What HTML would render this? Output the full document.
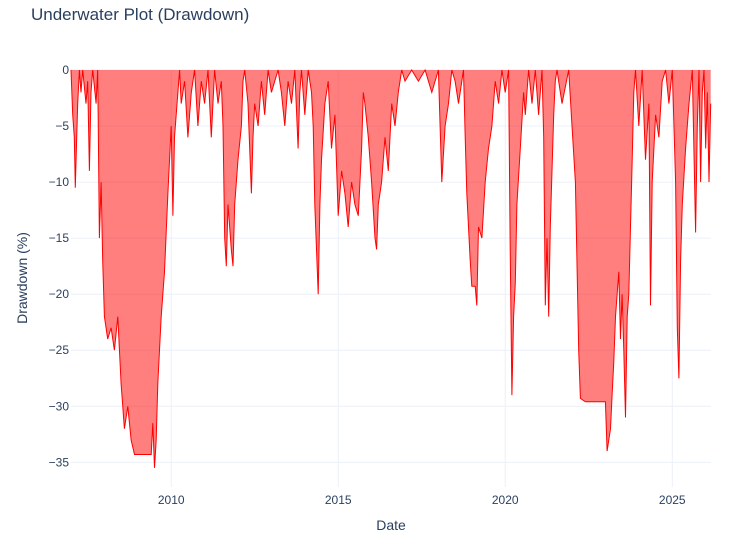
<!DOCTYPE html>
<html><head><meta charset="utf-8"><style>
body{margin:0;background:#fff;font-family:"Liberation Sans",sans-serif;}
svg text{font-family:"Liberation Sans",sans-serif;fill:#2a3f5f;}
</style></head><body>
<svg id="chart" width="740" height="545">
<text x="31" y="20" font-size="17">Underwater Plot (Drawdown)</text>
<g id="grid"></g><g id="series"></g><g id="axes"></g>
<text x="391" y="530" font-size="14" text-anchor="middle">Date</text>
<text transform="translate(27,278) rotate(-90)" font-size="14" text-anchor="middle">Drawdown (%)</text>
</svg>
<script>
const dates=[2007.0,2007.05,2007.1,2007.13,2007.17,2007.2,2007.25,2007.3,2007.35,2007.45,2007.5,2007.55,2007.6,2007.65,2007.75,2007.8,2007.85,2007.9,2007.95,2008.0,2008.1,2008.2,2008.3,2008.4,2008.5,2008.6,2008.7,2008.8,2008.9,2009.0,2009.2,2009.4,2009.45,2009.5,2009.55,2009.6,2009.65,2009.7,2009.8,2009.9,2010.0,2010.05,2010.1,2010.2,2010.25,2010.3,2010.4,2010.5,2010.6,2010.7,2010.8,2010.9,2011.0,2011.1,2011.2,2011.3,2011.4,2011.5,2011.55,2011.6,2011.65,2011.7,2011.8,2011.85,2011.9,2012.0,2012.1,2012.15,2012.2,2012.3,2012.4,2012.45,2012.5,2012.6,2012.7,2012.8,2012.9,2013.0,2013.2,2013.3,2013.4,2013.5,2013.6,2013.7,2013.8,2013.85,2013.9,2014.0,2014.1,2014.2,2014.25,2014.3,2014.35,2014.4,2014.45,2014.5,2014.6,2014.7,2014.8,2014.9,2015.0,2015.1,2015.2,2015.3,2015.4,2015.5,2015.6,2015.7,2015.75,2015.8,2015.9,2016.0,2016.1,2016.15,2016.2,2016.3,2016.4,2016.5,2016.6,2016.7,2016.8,2016.9,2017.0,2017.2,2017.4,2017.6,2017.8,2018.0,2018.1,2018.2,2018.3,2018.4,2018.5,2018.6,2018.75,2018.8,2018.85,2018.9,2018.95,2019.0,2019.1,2019.15,2019.2,2019.3,2019.4,2019.5,2019.6,2019.7,2019.8,2019.9,2020.0,2020.1,2020.15,2020.2,2020.25,2020.3,2020.35,2020.45,2020.55,2020.6,2020.7,2020.8,2020.9,2021.0,2021.1,2021.15,2021.2,2021.25,2021.3,2021.35,2021.45,2021.5,2021.55,2021.7,2021.9,2022.0,2022.1,2022.2,2022.25,2022.4,2022.6,2022.8,2023.0,2023.05,2023.1,2023.15,2023.2,2023.25,2023.3,2023.4,2023.45,2023.5,2023.55,2023.6,2023.65,2023.7,2023.8,2023.85,2023.9,2024.0,2024.1,2024.2,2024.3,2024.35,2024.4,2024.5,2024.6,2024.7,2024.8,2024.9,2025.0,2025.1,2025.15,2025.2,2025.25,2025.3,2025.4,2025.5,2025.6,2025.7,2025.75,2025.8,2025.85,2025.9,2025.95,2026.0,2026.05,2026.1,2026.15];
const drawdowns=[0,-4,-6,-10.5,-6,-3,0,-2,0,-3,-1,-9,-2,0,-3,0,-15,-10,-17,-22,-24,-23,-25,-22,-28,-32,-30,-33,-34.3,-34.3,-34.3,-34.3,-31.5,-35.5,-33,-28,-25,-22,-18,-11,-5,-13,-6,-2,0,-3,-1,-6,-2,0,-5,-1,-3,0,-6,0,-3,-1,-5,-15,-17.5,-12,-16,-17.5,-12,-8,-5,-1,0,-3,-11,-6,-3,-5,-1,-4,0,-2,0,-2,-5,-1,-3,0,-7,-2,0,-4,0,-2,-5,-12,-16,-20,-12,-8,-3,-1,-7,-4,-13,-9,-11,-14,-10,-12,-13,-7,-2,-3,-6,-10,-15,-16,-12,-10,-6,-9,-3,-5,-2,0,-1,0,-1,0,-2,0,-10,-5,-3,0,-1,-3,0,-6,-11,-14,-17,-19.3,-19.3,-21,-14,-15,-10,-7,-5,-1,-3,0,-2,0,-16,-29,-22,-19,-12,-7,-2,-4,0,-3,0,-4,0,-6,-21,-15,-22,-14,-4,-1,0,-3,0,-5,-10,-25,-29.3,-29.6,-29.6,-29.6,-29.6,-34,-33,-32,-29,-26,-22,-18,-24,-20,-25,-31,-22,-20,-8,-2,0,-5,0,-8,-3,-21,-10,-4,-6,-1,0,-3,0,-10,-23,-27.5,-17,-12,-7,-3,0,-14.5,-5,0,-10,-2,0,-7,-2,-10,-3];
const xTicks=[2010,2015,2020,2025];
const yTicks=[0,-5,-10,-15,-20,-25,-30,-35];
const X0=71,X1=711,Y0=70,Y1=487,xMin=2007.0,xMax=2026.16,yMin=-37.2,yMax=0;
const xs=v=>X0+(v-xMin)/(xMax-xMin)*(X1-X0);
const ys=v=>Y0+(yMax-v)/(yMax-yMin)*(Y1-Y0);
const NS="http://www.w3.org/2000/svg";
const grid=document.getElementById('grid'),axes=document.getElementById('axes'),ser=document.getElementById('series');
yTicks.forEach(t=>{
 const l=document.createElementNS(NS,'line');
 
 
 l.setAttribute('x1',X0);l.setAttribute('x2',X1);l.setAttribute('y1',ys(t));l.setAttribute('y2',ys(t));
 l.setAttribute('stroke','#ebf0f8');grid.appendChild(l);
 const tx=document.createElementNS(NS,'text');
 
 
 tx.setAttribute('x',X0-2);tx.setAttribute('y',ys(t)+4);tx.setAttribute('text-anchor','end');tx.setAttribute('font-size','12');
 tx.textContent=t===0?'0':'−'+Math.abs(t);axes.appendChild(tx);
});
xTicks.forEach(t=>{
 const l=document.createElementNS(NS,'line');
 
 
 l.setAttribute('x1',xs(t));l.setAttribute('x2',xs(t));l.setAttribute('y1',Y0);l.setAttribute('y2',Y1);
 l.setAttribute('stroke','#ebf0f8');grid.appendChild(l);
 const tx=document.createElementNS(NS,'text');
 
 
 tx.setAttribute('x',xs(t));tx.setAttribute('y',Y1+17);tx.setAttribute('text-anchor','middle');tx.setAttribute('font-size','12');
 tx.textContent=t;axes.appendChild(tx);
});
let d='M'+xs(dates[0])+','+ys(0);
dates.forEach((v,i)=>{d+=' L'+xs(v).toFixed(1)+','+ys(drawdowns[i]).toFixed(1);});
const area=document.createElementNS(NS,'path');


area.setAttribute('d',d+' L'+xs(dates[dates.length-1])+','+ys(0)+' Z');
area.setAttribute('fill','rgba(255,0,0,0.5)');ser.appendChild(area);
const line=document.createElementNS(NS,'path');


line.setAttribute('d','M'+dates.map((v,i)=>xs(v).toFixed(1)+','+ys(drawdowns[i]).toFixed(1)).join(' L'));
line.setAttribute('fill','none');line.setAttribute('stroke','#ff0000');line.setAttribute('stroke-width','1');ser.appendChild(line);
</script>
</body></html>
